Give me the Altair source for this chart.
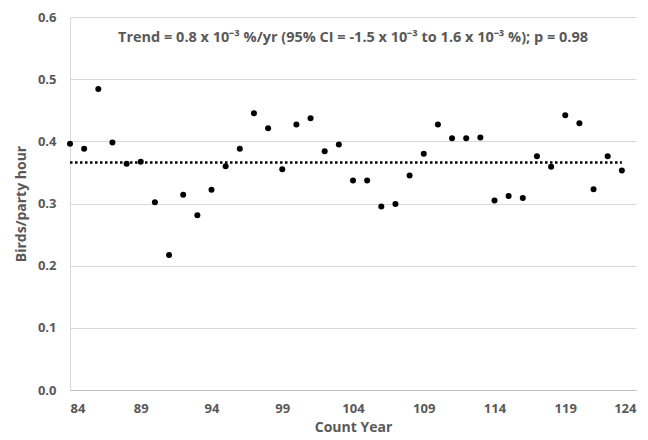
import altair as alt
import pandas as pd

years = list(range(84, 124))
birds = [0.396, 0.388, 0.484, 0.398, 0.364, 0.367, 0.302, 0.217, 0.314, 0.281,
         0.322, 0.360, 0.388, 0.445, 0.421, 0.355, 0.427, 0.437, 0.384, 0.395,
         0.337, 0.337, 0.295, 0.299, 0.345, 0.380, 0.427, 0.405, 0.405, 0.406,
         0.305, 0.312, 0.309, 0.376, 0.359, 0.442, 0.429, 0.323, 0.376, 0.353]
trend_years = [84, 123]
trend_values = [0.366, 0.366]
x_ticks = [84, 89, 94, 99, 104, 109, 114, 119, 124]
annotation = "Trend = 0.8 x 10\u207b\u00b3 %/yr (95% CI = -1.5 x 10\u207b\u00b3 to 1.6 x 10\u207b\u00b3 %); p = 0.98"

df = pd.DataFrame({"year": years, "birds": birds})
tdf = pd.DataFrame({"year": trend_years, "birds": trend_values})
adf = pd.DataFrame({"year": [104], "birds": [0.566], "label": [annotation]})

FONT = "Open Sans"
GRAY = "#595959"

x_enc = alt.X("year:Q", scale=alt.Scale(domain=[84, 124], nice=False, zero=False),
              axis=alt.Axis(values=x_ticks, title="Count Year", grid=False,
                            ticks=False, labelPadding=12, titlePadding=5,
                            domainColor="#bfbfbf", labelFont=FONT, titleFont=FONT,
                            labelFontSize=13, titleFontSize=14, labelColor=GRAY,
                            titleColor=GRAY, labelFontWeight="bold", titleFontWeight="bold"))
y_enc = alt.Y("birds:Q", scale=alt.Scale(domain=[0, 0.6], nice=False),
              axis=alt.Axis(values=[0, 0.1, 0.2, 0.3, 0.4, 0.5, 0.6], format=".1f",
                            title="Birds/party hour", grid=True, gridColor="#d9d9d9",
                            ticks=False, labelPadding=14, titlePadding=9,
                            domainColor="#d9d9d9", labelFont=FONT, titleFont=FONT,
                            labelFontSize=13, titleFontSize=14, labelColor=GRAY,
                            titleColor=GRAY, labelFontWeight="bold", titleFontWeight="bold"))

points = alt.Chart(df).mark_circle(size=36, color="black", opacity=1).encode(x=x_enc, y=y_enc)
trend = alt.Chart(tdf).mark_line(color="black", strokeWidth=2.5, strokeDash=[2.5, 2.5]).encode(
    x="year:Q", y="birds:Q")
text = alt.Chart(adf).mark_text(font=FONT, fontSize=14.5, fontWeight="bold", color=GRAY,
                                align="center", baseline="middle").encode(
    x="year:Q", y="birds:Q", text="label:N")

chart = alt.layer(trend, points, text).properties(
    width=566, height=373,
    autosize=alt.AutoSizeParams(type="none"),
    padding={"left": 62, "top": 9, "right": 4, "bottom": 48},
    background="white",
).configure_view(stroke=None)

chart.save("out.html", embed_options={"renderer": "svg", "actions": False})
